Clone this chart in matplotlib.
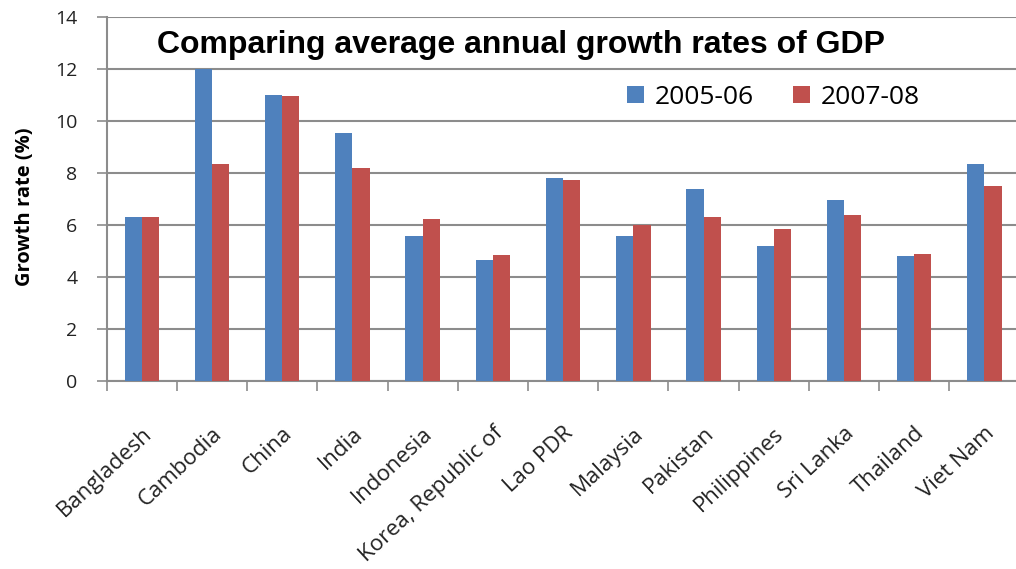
import numpy as np
import matplotlib
matplotlib.use("Agg")
import matplotlib.pyplot as plt

countries = ["Bangladesh", "Cambodia", "China", "India", "Indonesia",
             "Korea, Republic of", "Lao PDR", "Malaysia", "Pakistan",
             "Philippines", "Sri Lanka", "Thailand", "Viet Nam"]
growth_0506 = [6.3, 12.0, 11.0, 9.55, 5.6, 4.65, 7.8, 5.6, 7.4, 5.2, 6.95, 4.8, 8.35]
growth_0708 = [6.3, 8.35, 10.95, 8.2, 6.25, 4.85, 7.75, 6.0, 6.3, 5.85, 6.4, 4.9, 7.5]
series_labels = ["2005-06", "2007-08"]
y_ticks = [0, 2, 4, 6, 8, 10, 12, 14]

blue = "#4F81BD"
red = "#C0504D"
grid_col = "#8C8C8C"

fig = plt.figure(figsize=(10.16, 5.69), dpi=100)
ax = fig.add_axes([0.105, 0.330, 0.895, 0.640])

x = np.arange(len(countries))
w = 0.245
ax.bar(x - w / 2, growth_0506, w, color=blue, label=series_labels[0], zorder=3)
ax.bar(x + w / 2, growth_0708, w, color=red, label=series_labels[1], zorder=3)

ax.set_ylim(0, 14)
ax.set_xlim(-0.5, 12.45)
ax.set_yticks(y_ticks)
ax.set_yticklabels([str(t) for t in y_ticks], fontsize=14, family="Open Sans", color="#222222")
ax.yaxis.grid(True, color=grid_col, linewidth=1.5, zorder=0)
ax.tick_params(axis="y", length=7, width=1.2, color=grid_col, pad=14)

# category boundary ticks on x axis
ax.set_xticks(np.arange(-0.5, 12.5, 1.0), minor=False)
ax.set_xticklabels([])
ax.set_xticks(x, minor=True)
ax.set_xticklabels(countries, minor=True, rotation=43, ha="right",
                   rotation_mode="anchor", fontsize=16, family="Open Sans", color="#222222")
ax.tick_params(axis="x", which="major", length=7, width=1.2, color=grid_col)
ax.tick_params(axis="x", which="minor", length=0, pad=30)

for side in ["top", "right"]:
    ax.spines[side].set_visible(False)
for side in ["left", "bottom"]:
    ax.spines[side].set_color(grid_col)
    ax.spines[side].set_linewidth(1.5)

ax.set_ylabel("Growth rate (%)", fontsize=14.5, fontweight="bold", family="Open Sans")
ax.yaxis.set_label_coords(-0.079, 0.48)

fig.text(0.513, 0.921, "Comparing average annual growth rates of GDP", ha="center", va="center",
         fontsize=23, fontweight="bold", family="Liberation Sans")

ax.legend(loc="center", bbox_to_anchor=(0.733, 0.780), ncol=2, frameon=False,
          prop={"family": "Open Sans", "size": 19},
          handlelength=0.65, handleheight=0.65, handletextpad=0.4, columnspacing=1.5)

fig.savefig("out.png", dpi=100)
